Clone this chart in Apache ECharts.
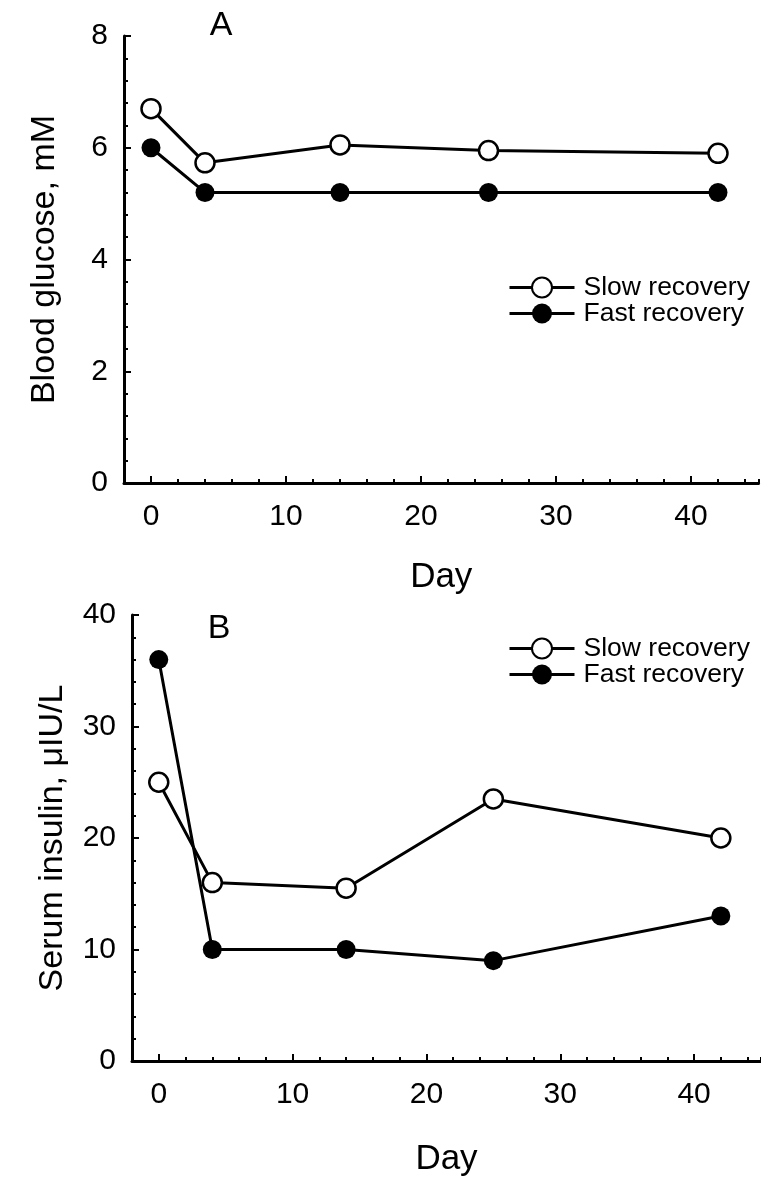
<!DOCTYPE html>
<html>
<head>
<meta charset="utf-8">
<script src="https://cdn.jsdelivr.net/npm/echarts@6/dist/echarts.min.js"></script>
<style>
html,body{margin:0;padding:0;background:#fff;}
#chart{width:761px;height:1182px;}
</style>
</head>
<body>
<div id="chart"></div>
<script>
// ---- data ----
const days = [0, 4, 14, 25, 42];
const glucoseSlow = [6.7, 5.73, 6.05, 5.95, 5.9];
const glucoseFast = [6.0, 5.2, 5.2, 5.2, 5.2];
const insulinSlow = [25, 16, 15.5, 23.5, 20];
const insulinFast = [36, 10, 10, 9, 13];
const seriesNames = ['Slow recovery', 'Fast recovery'];
const xMajorTicks = [0, 10, 20, 30, 40];
const panelLabels = ['A', 'B'];
const yTitles = ['Blood glucose, mM', 'Serum insulin, \u03bcIU/L'];
const xTitle = 'Day';

const FONT = "'Liberation Sans', Arial, sans-serif";
const BLACK = '#000';

function pairs(xs, ys) { return xs.map((x, i) => [x, ys[i]]); }

function xAxes(gridIndex, nameGap) {
  return [
    {
      type: 'value', gridIndex, min: -2, max: 45, interval: 2,
      name: xTitle, nameLocation: 'middle', nameGap,
      nameTextStyle: { fontFamily: FONT, fontSize: 35, color: BLACK },
      axisLine: { onZero: false, lineStyle: { color: BLACK, width: 3 } },
      axisTick: { inside: true, length: 4, lineStyle: { color: BLACK, width: 2 } },
      axisLabel: { customValues: xMajorTicks, margin: 19, fontFamily: FONT, fontSize: 30, color: BLACK },
      splitLine: { show: false }
    },
    {
      type: 'value', gridIndex, min: -2, max: 45, position: 'bottom', offset: 0,
      axisLine: { show: false },
      axisTick: { inside: true, length: 7, customValues: xMajorTicks, lineStyle: { color: BLACK, width: 2 } },
      axisLabel: { show: false },
      splitLine: { show: false }
    }
  ];
}

function yAxis(gridIndex, max, interval, name) {
  return {
    type: 'value', gridIndex, min: 0, max, interval,
    name, nameLocation: 'middle', nameGap: 62,
    nameTextStyle: { fontFamily: FONT, fontSize: 34, color: BLACK },
    axisLine: { show: true, onZero: false, lineStyle: { color: BLACK, width: 3 } },
    axisTick: { show: true, inside: true, length: 7, lineStyle: { color: BLACK, width: 2 } },
    minorTick: { show: true, splitNumber: 5, length: 4, lineStyle: { color: BLACK, width: 2 } },
    axisLabel: { margin: 16, fontFamily: FONT, fontSize: 30, color: BLACK },
    splitLine: { show: false }
  };
}

function lineSeries(name, data, xi, yi, open) {
  return {
    name, type: 'line', data, xAxisIndex: xi, yAxisIndex: yi,
    symbol: 'circle', symbolSize: 19,
    lineStyle: { color: BLACK, width: 3 },
    itemStyle: open ? { color: '#fff', borderColor: BLACK, borderWidth: 2.5 }
                    : { color: BLACK, borderColor: BLACK, borderWidth: 0 },
    emphasis: { disabled: true },
    z: open ? 3 : 2
  };
}

const legendCommon = {
  orient: 'vertical', left: 503, itemWidth: 65, itemHeight: 25, itemGap: -1,
  data: seriesNames,
  lineStyle: { width: 3 },
  textStyle: { fontFamily: FONT, fontSize: 26.5, color: BLACK, lineHeight: 22, padding: [0, 0, 0, 4] }
};

const chart = echarts.init(document.getElementById('chart'), null, { renderer: 'canvas' });
chart.setOption({
  animation: false,
  backgroundColor: '#fff',
  title: [
    { text: panelLabels[0], left: 221, top: 9, textAlign: 'center', padding: 0,
      textStyle: { fontFamily: FONT, fontSize: 34, fontWeight: 'normal', color: BLACK } },
    { text: panelLabels[1], left: 219, top: 612, textAlign: 'center', padding: 0,
      textStyle: { fontFamily: FONT, fontSize: 34, fontWeight: 'normal', color: BLACK } }
  ],
  legend: [
    Object.assign({}, legendCommon, { top: 269 }),
    Object.assign({}, legendCommon, { top: 630 })
  ],
  grid: [
    { left: 124, top: 36, width: 634.5, height: 447, containLabel: false },
    { left: 132, top: 615, width: 634.5, height: 446, containLabel: false }
  ],
  xAxis: xAxes(0, 77).concat(xAxes(1, 81)),
  yAxis: [
    yAxis(0, 8, 2, yTitles[0]),
    yAxis(1, 40, 10, yTitles[1])
  ],
  series: [
    lineSeries(seriesNames[0], pairs(days, glucoseSlow), 0, 0, true),
    lineSeries(seriesNames[1], pairs(days, glucoseFast), 0, 0, false),
    lineSeries(seriesNames[0], pairs(days, insulinSlow), 2, 1, true),
    lineSeries(seriesNames[1], pairs(days, insulinFast), 2, 1, false)
  ]
});
</script>
</body>
</html>
